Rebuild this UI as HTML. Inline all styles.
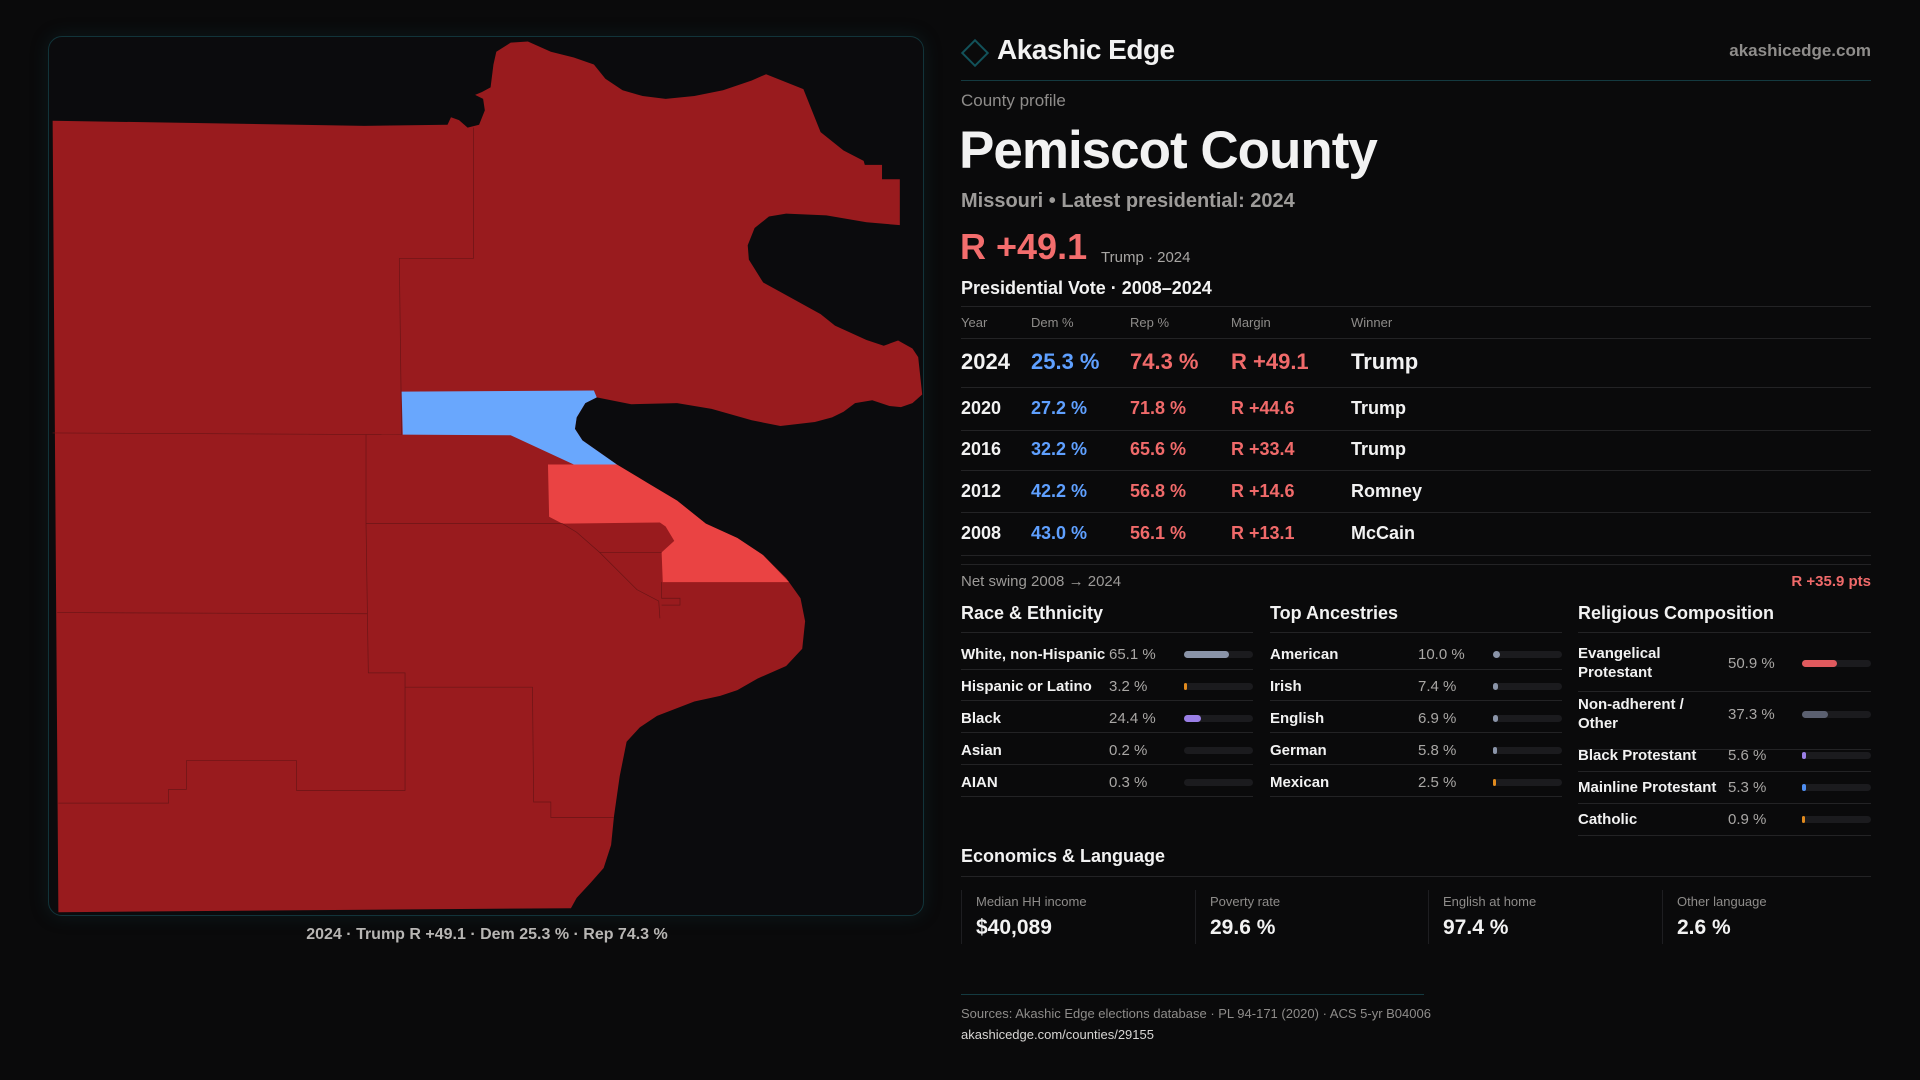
<!DOCTYPE html>
<html><head><meta charset="utf-8">
<style>
*{margin:0;padding:0;box-sizing:border-box}
body{width:1920px;height:1080px;background:#0a0a0b;overflow:hidden;position:relative;font-family:"Liberation Sans",sans-serif;color:#f2f2f2}
.a{position:absolute;white-space:nowrap}
.g{color:#9c9a98}
.ln{position:absolute;height:1px;background:#232325}
.red{color:#f06a6a}.blue{color:#5fa0ff}
</style></head><body>
<div class="a" style="left:48px;top:36px;width:876px;height:880px;border:1px solid #12343a;border-radius:14px;background:#0b0b0d;box-shadow:0 0 18px rgba(20,70,80,0.25)"></div>
<svg class="a" style="left:40px;top:30px" width="900" height="900" viewBox="0 0 1568 1568">
<path fill="#991b1e" d="M22,158 L565,167 L710,165 L716,152 L730,157 L745,170 L765,165 L775,140 L772,120 L758,113 L770,108 L785,100 L790,60 L795,38 L820,22 L850,20 L890,38 L930,48 L965,60 L985,85 L1015,105 L1050,115 L1090,120 L1140,115 L1190,105 L1240,88 L1265,77 L1330,103 L1360,178 L1400,210 L1435,228 L1437,235 L1467,235 L1467,260 L1498,260 L1498,340 L1440,335 L1370,323 L1300,320 L1270,325 L1245,345 L1233,375 L1235,400 L1260,440 L1300,462 L1360,495 L1385,515 L1440,540 L1470,550 L1495,541 L1520,555 L1530,570 L1537,635 L1520,650 L1500,657 L1480,655 L1450,645 L1420,650 L1400,665 L1380,675 L1350,683 L1290,690 L1240,680 L1170,660 L1110,650 L1030,652 L995,645 L970,640 L950,650 L935,675 L932,695 L945,715 L1005,757 L1060,790 L1110,820 L1160,860 L1215,885 L1260,915 L1300,955 L1325,990 L1333,1030 L1328,1078 L1300,1108 L1250,1130 L1215,1150 L1185,1160 L1140,1170 L1075,1195 L1045,1215 L1022,1240 L1010,1300 L1000,1370 L995,1420 L982,1460 L960,1485 L935,1512 L925,1530 L32,1537 Z"/>
<path fill="#69a7fd" d="M630,630 L965,628 L970,640 L950,650 L935,675 L932,695 L945,715 L1005,757 L930,757 L820,706 L632,705 Z"/>
<path fill="#ea4343" d="M885,757 L1005,757 L1060,790 L1110,820 L1160,860 L1215,885 L1260,915 L1305,962 L1085,962 L1083,910 L1105,890 L1090,865 L1080,858 L910,860 L887,848 Z"/>
<g fill="none" stroke="#6a1416" stroke-width="1.2">
<path d="M755,170 L755,398 L626,398 L630,705"/>
<path d="M22,702 L630,705"/>
<path d="M568,705 L568,860 L572,1120 L636,1120 L636,1325 L447,1325 L447,1273 L255,1273 L255,1323 L224,1323 L224,1347 L32,1347"/>
<path d="M30,1015 L570,1017"/>
<path d="M568,860 L910,860 L935,875 L975,910 L1040,975 L1078,995 L1080,1025"/>
<path d="M975,910 L1083,910"/>
<path d="M1083,962 L1083,990 L1115,990 L1115,1002 L1083,1002"/>
<path d="M636,1145 L858,1145 L860,1345 L890,1345 L890,1372 L1000,1372"/>
</g>
</svg>
<div class="a" style="left:0;width:974px;text-align:center;top:926px;font-size:16px;font-weight:bold;color:#b8b6b4">2024 · Trump R +49.1 · Dem 25.3 % · Rep 74.3 %</div>

<div class="a" style="left:965px;top:43px;width:20px;height:20px;border:2px solid #12525a;transform:rotate(45deg)"></div>
<div class="a" style="left:997px;top:34px;font-size:28px;font-weight:bold;letter-spacing:-0.5px">Akashic Edge</div>
<div class="a g" style="right:49px;top:41px;font-size:17px;font-weight:bold;color:#8f8d8b">akashicedge.com</div>
<div class="ln" style="left:961px;width:910px;top:80px;background:#143a40"></div>

<div class="a g" style="left:961px;top:91px;font-size:17px;color:#8e8c8a">County profile</div>
<div class="a" style="left:959px;top:120px;font-size:53px;font-weight:bold;letter-spacing:-1px">Pemiscot County</div>
<div class="a g" style="left:961px;top:190px;font-size:20px;font-weight:bold;color:#9d9b99">Missouri • Latest presidential: 2024</div>
<div class="a red" style="left:960px;top:226px;font-size:36px;font-weight:bold;color:#f36d6d">R +49.1</div>
<div class="a g" style="left:1101px;top:249px;font-size:15px;color:#a8a6a4">Trump · 2024</div>
<div class="a" style="left:961px;top:278px;font-size:18px;font-weight:bold">Presidential Vote · 2008–2024</div>
<div class="ln" style="left:961px;width:910px;top:306px"></div>
<div id="tbl"></div>

<div class="ln" style="left:961px;width:910px;top:564px"></div>
<div class="a g" style="left:961px;top:573px;font-size:15px">Net swing 2008 → 2024</div>
<div class="a" style="right:49px;top:573px;font-size:15px;font-weight:bold;color:#f06a6a">R +35.9 pts</div>

<div id="demo"></div>

<div class="a" style="left:961px;top:846px;font-size:18px;font-weight:bold">Economics &amp; Language</div>
<div class="ln" style="left:961px;width:910px;top:876px"></div>
<div id="econ"></div>

<div class="ln" style="left:961px;width:463px;top:994px;background:#143a40"></div>
<div class="a g" style="left:961px;top:1006px;font-size:13px;color:#8e8c8a">Sources: Akashic Edge elections database · PL 94-171 (2020) · ACS 5-yr B04006</div>
<div class="a" style="left:961px;top:1027px;font-size:13px;color:#d8d6d4">akashicedge.com/counties/29155</div>

<script>
const years=["2024","2020","2016","2012","2008"];
const demPct=[25.3,27.2,32.2,42.2,43.0];
const repPct=[74.3,71.8,65.6,56.8,56.1];
const margins=[49.1,44.6,33.4,14.6,13.1];
const winners=["Trump","Trump","Trump","Romney","McCain"];
const raceLabels=["White, non-Hispanic","Hispanic or Latino","Black","Asian","AIAN"];
const raceValues=[65.1,3.2,24.4,0.2,0.3];
const raceColors=["#8a94a8","#e08a1e","#9a7fe6","#8a94a8","#8a94a8"];
const ancLabels=["American","Irish","English","German","Mexican"];
const ancValues=[10.0,7.4,6.9,5.8,2.5];
const ancColors=["#8a94a8","#8a94a8","#8a94a8","#8a94a8","#e08a1e"];
const relLabels=["Evangelical<br>Protestant","Non-adherent /<br>Other","Black Protestant","Mainline Protestant","Catholic"];
const relValues=[50.9,37.3,5.6,5.3,0.9];
const relColors=["#e05a5e","#5b6070","#9a7fe6","#4f8ef0","#e08a1e"];
const econLabels=["Median HH income","Poverty rate","English at home","Other language"];
const econValues=["$40,089","29.6 %","97.4 %","2.6 %"];

function mk(parent,css,html,cls){const d=document.createElement('div');d.className='a '+(cls||'');d.style.cssText=css;if(html!==undefined)d.innerHTML=html;parent.appendChild(d);return d;}
const B=document.body;
const cols=[961,1031,1130,1231,1351];
["Year","Dem %","Rep %","Margin","Winner"].forEach((h,i)=>{
 const e=mk(B,`left:${cols[i]}px;top:315px;font-size:13px;color:#8e8c8a`,h);
 
 
});
const l0=document.createElement('div');l0.className='ln';l0.style.cssText='left:961px;width:910px;top:338px';B.appendChild(l0);


const rowY=[361,408,449,491,533];
const sepY=[387,430,470,512,555];
years.forEach((y,i)=>{
 const fs=i===0?22:18;const t=rowY[i]-fs/2-1;
 const vals=[[y,'#f2f2f2'],[demPct[i].toFixed(1)+' %','#5fa0ff'],[repPct[i].toFixed(1)+' %','#f06a6a'],['R +'+margins[i].toFixed(1),'#f06a6a'],[winners[i],'#f2f2f2']];
 vals.forEach((v,j)=>{
  const e=mk(B,`left:${cols[j]}px;top:${t}px;font-size:${fs}px;font-weight:bold;color:${v[1]}`,v[0]);
  
  
 });
 const s=document.createElement('div');s.className='ln';s.style.cssText=`left:961px;width:910px;top:${sepY[i]}px`;B.appendChild(s);
 
 
});
function section(x,w,title,labels,values,colors,rows,seps,valX,barX,name){
 const h=mk(B,`left:${x}px;top:603px;font-size:18px;font-weight:bold`,title);
 
 
 const r=document.createElement('div');r.className='ln';r.style.cssText=`left:${x}px;width:${w}px;top:632px`;B.appendChild(r);
 
 
 labels.forEach((lb,i)=>{
  const two=lb.indexOf('<br>')>=0;
  const lab=mk(B,`left:${x}px;top:${rows[i]-(two?19:9)}px;font-size:15px;font-weight:bold;line-height:19px`,lb);
  
  
  const v=mk(B,`left:${valX}px;top:${rows[i]-9}px;font-size:15px;color:#a9a7a5;line-height:19px`,values[i].toFixed(1)+' %');
  
  
  const tw=x+w-barX;
  const tr=mk(B,`left:${barX}px;top:${rows[i]-3}px;width:${tw}px;height:7px;border-radius:4px;background:#1b1b1e`,'');
  
  
  const fw=values[i]/100*tw;
  if(fw>=0.5){
   const f=mk(B,`left:${barX}px;top:${rows[i]-3}px;width:${Math.max(fw,2.5)}px;height:7px;border-radius:4px;background:${colors[i]}`,'');
   
   
  }
  const s=document.createElement('div');s.className='ln';s.style.cssText=`left:${x}px;width:${w}px;top:${seps[i]}px`;B.appendChild(s);
  
  
 });
}
section(961,292,"Race &amp; Ethnicity",raceLabels,raceValues,raceColors,[654,686,718,750,782],[669,700,732,764,796],1109,1184,'race');
section(1270,292,"Top Ancestries",ancLabels,ancValues,ancColors,[654,686,718,750,782],[669,700,732,764,796],1418,1493,'ancestry');
section(1578,293,"Religious Composition",relLabels,relValues,relColors,[663,714,755,787,819],[691,749,771,803,835],1728,1802,'religion');
const ex=[961,1195,1428,1662];
econLabels.forEach((l,i)=>{
 const c=mk(B,`left:${ex[i]}px;top:890px;width:1px;height:54px;background:#1e1e21`,'');
 
 
 const a=mk(B,`left:${ex[i]+15}px;top:894px;font-size:13px;color:#8e8c8a`,l);
 
 
 const b=mk(B,`left:${ex[i]+15}px;top:916px;font-size:21px;font-weight:bold`,econValues[i]);
 
 
});
</script>
</body></html>
